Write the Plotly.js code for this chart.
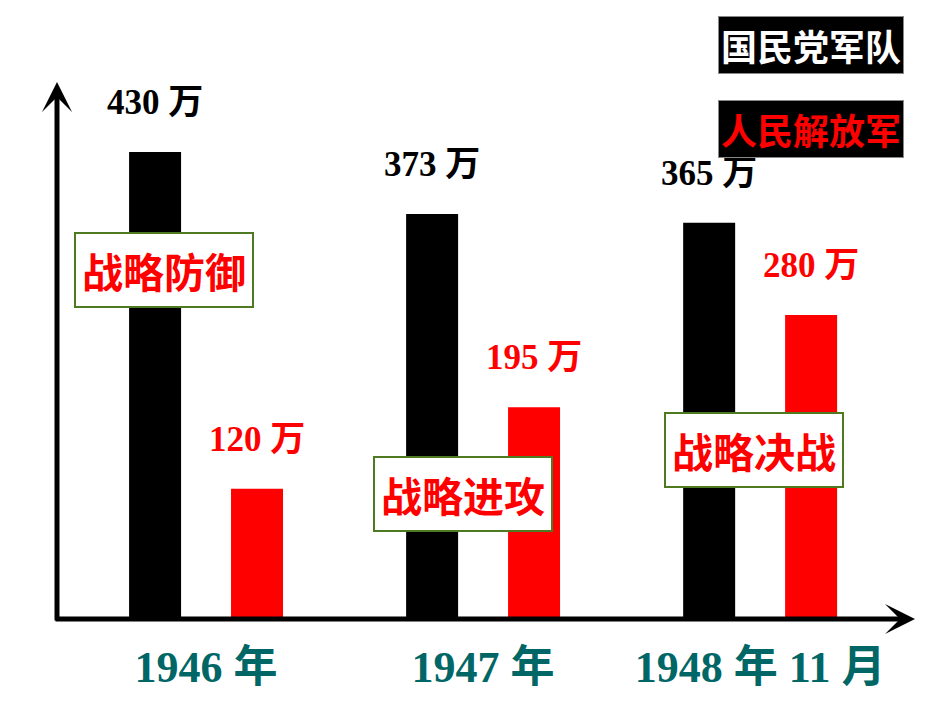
<!DOCTYPE html>
<html>
<head>
<meta charset="utf-8">
<script src="https://cdn.plot.ly/plotly-3.0.1.min.js"></script>
<style>html,body{margin:0;padding:0;background:#fff}#chart{width:950px;height:713px}</style>
</head>
<body>
<div id="chart"></div>
<script>
// ---- data ----
const categories = ['1946 年', '1947 年', '1948 年 11 月'];
const seriesNames = ['国民党军队', '人民解放军'];
const kmtValues = [430, 373, 365];   // 国民党军队 (万)
const plaValues = [120, 195, 280];   // 人民解放军 (万)
const unit = '万';
const phaseLabels = ['战略防御', '战略进攻', '战略决战'];

// ---- styles ----
const colors = ['#000000', '#ff0000'];
const serif = 'Liberation Serif, Noto Sans CJK SC, serif';
const sans = 'Noto Sans CJK SC, sans-serif';

const traces = [kmtValues, plaValues].map((vals, i) => ({
  type: 'bar',
  name: seriesNames[i],
  x: categories,
  y: vals,
  marker: {color: colors[i]},
  hoverinfo: 'x+y+name'
}));

const annotations = [];
// value labels
[kmtValues, plaValues].forEach((vals, i) => {
  vals.forEach((v, j) => {
    annotations.push({
      x: categories[j], y: v, xref: 'x', yref: 'y',
      text: v + ' ' + unit, showarrow: false,
      xanchor: 'center', yanchor: 'bottom',
      xshift: i === 0 ? -51 : 51, yshift: 28,
      font: {family: serif, size: 35, color: colors[i], weight: 'bold'}
    });
  });
});
// phase boxes
const phasePos = [[0.1247, 0.650], [0.4732, 0.2328], [0.8124, 0.3147]];
phaseLabels.forEach((t, k) => {
  annotations.push({
    x: phasePos[k][0], y: phasePos[k][1], xref: 'paper', yref: 'paper',
    text: t, showarrow: false, xanchor: 'center', yanchor: 'middle',
    bgcolor: '#ffffff', bordercolor: '#4e7a22', borderwidth: 2, borderpad: 6,
    font: {family: sans, size: 41, color: '#ff0000', weight: 'bold'}
  });
});
// legend boxes
const legendPos = [1.0689, 0.9125];
const legendText = ['#ffffff', '#ff0000'];
seriesNames.forEach((n, i) => {
  annotations.push({
    x: 0.8788, y: legendPos[i], xref: 'paper', yref: 'paper',
    text: n, showarrow: false, xanchor: 'center', yanchor: 'middle',
    bgcolor: '#000000', bordercolor: '#888888', borderwidth: 1, borderpad: 2,
    font: {family: sans, size: 36, color: legendText[i], weight: 'bold'}
  });
});
// axis arrows
annotations.push({
  x: 0, y: 1, xref: 'paper', yref: 'paper', text: '', showarrow: true,
  ax: 0, ay: 540, arrowhead: 3, arrowwidth: 5, arrowsize: 1, arrowcolor: '#000'
});
annotations.push({
  x: 1, y: 0, xref: 'paper', yref: 'paper', text: '', showarrow: true,
  ax: -861, ay: 0, arrowhead: 3, arrowwidth: 5, arrowsize: 1, arrowcolor: '#000'
});

const layout = {
  width: 950, height: 713,
  margin: {l: 57, r: 35, t: 82, b: 94},
  paper_bgcolor: '#ffffff', plot_bgcolor: '#ffffff',
  showlegend: false,
  barmode: 'group', bargap: 0.264, bargroupgap: 0.49,
  xaxis: {
    range: [-0.538, 2.559], showline: false, showgrid: false, zeroline: false,
    ticks: '', ticklabelstandoff: 18,
    tickfont: {family: serif, size: 44, color: '#006666', weight: 'bold'}
  },
  yaxis: {
    range: [0, 494.5], showline: false, showgrid: false, zeroline: false,
    showticklabels: false, ticks: ''
  },
  annotations: annotations
};

Plotly.newPlot('chart', traces, layout, {displayModeBar: false, staticPlot: true});
</script>
</body>
</html>
